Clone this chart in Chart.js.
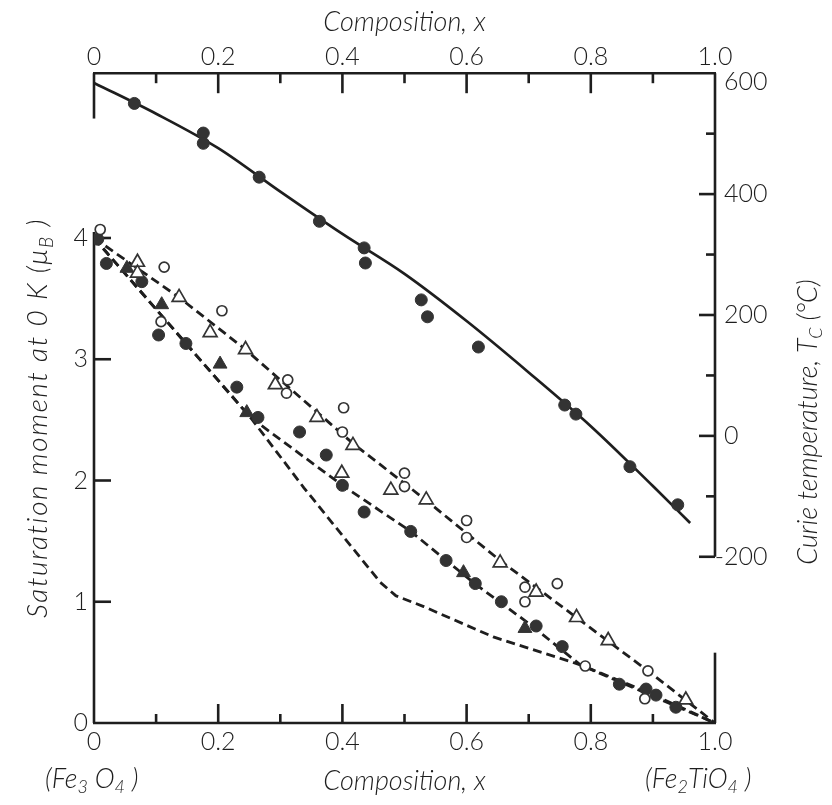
<html>
<head>
<meta charset="utf-8">
<script src="https://cdn.jsdelivr.net/npm/chart.js@4.4.1/dist/chart.umd.min.js"></script>
<style>
  body { margin: 0; background: #fff; }
</style>
</head>
<body>
<canvas id="myChart" width="832" height="805"></canvas>
<script>
// Curie temperature against composition (top axis / right axis)
const curieX = [0.065, 0.176, 0.176, 0.266, 0.363, 0.435, 0.437, 0.527, 0.537, 0.619, 0.758, 0.776, 0.863, 0.940];
const curieT = [550, 501, 484, 428, 355, 311, 286, 225, 197, 147, 51, 36, -51, -114];
const curieFitX = [0, 0.1, 0.2, 0.3, 0.4, 0.5, 0.6, 0.7, 0.8, 0.9, 0.96];
const curieFitT = [584, 533, 476, 404, 334, 268, 190, 105, 16, -83, -144];

// Saturation moment at 0 K against composition (bottom axis / left axis)
const filledCircX = [0.006, 0.02, 0.077, 0.104, 0.148, 0.23, 0.264, 0.331, 0.374, 0.40, 0.435, 0.51, 0.567, 0.614, 0.656, 0.712, 0.754, 0.846, 0.889, 0.905, 0.937];
const filledCircY = [3.99, 3.79, 3.64, 3.20, 3.13, 2.77, 2.52, 2.40, 2.21, 1.96, 1.74, 1.58, 1.34, 1.15, 1.00, 0.80, 0.63, 0.32, 0.28, 0.23, 0.13];
const filledTriX = [0.053, 0.109, 0.203, 0.246, 0.595, 0.694];
const filledTriY = [3.75, 3.45, 2.96, 2.56, 1.24, 0.78];
const openTriX = [0.07, 0.07, 0.137, 0.187, 0.244, 0.292, 0.359, 0.399, 0.417, 0.478, 0.535, 0.654, 0.712, 0.777, 0.828, 0.953];
const openTriY = [3.80, 3.71, 3.51, 3.22, 3.08, 2.79, 2.52, 2.06, 2.29, 1.92, 1.84, 1.32, 1.08, 0.87, 0.68, 0.19];
const openCircX = [0.01, 0.113, 0.108, 0.206, 0.312, 0.31, 0.402, 0.40, 0.50, 0.50, 0.60, 0.60, 0.694, 0.694, 0.746, 0.791, 0.892, 0.887];
const openCircY = [4.07, 3.76, 3.31, 3.40, 2.83, 2.72, 2.60, 2.40, 2.06, 1.95, 1.67, 1.53, 1.12, 1.00, 1.15, 0.47, 0.43, 0.20];

// dashed model curves
const upperDashX = [0, 0.137, 0.244, 0.416, 0.534, 0.654, 0.777, 0.892, 1.0];
const upperDashY = [4.0, 3.51, 3.08, 2.31, 1.84, 1.34, 0.87, 0.43, 0];
const middleDashX = [0, 0.252, 0.40, 0.51, 0.613, 0.703, 0.783, 0.889, 1.0];
const middleDashY = [4.0, 2.52, 1.96, 1.58, 1.15, 0.81, 0.48, 0.26, 0];
const lowerDashX = [0, 0.252, 0.338, 0.461, 0.486, 0.531, 0.643, 0.783, 1.0];
const lowerDashY = [4.0, 2.52, 1.94, 1.16, 1.05, 0.96, 0.71, 0.48, 0];

// axis ticks
const compTicks = [0, 0.2, 0.4, 0.6, 0.8, 1.0];
const compMinor = [0.1, 0.3, 0.5, 0.7, 0.9];
const momentTicks = [0, 1, 2, 3, 4];
const curieTicks = [-200, 0, 200, 400, 600];
const curieMinor = [-100, 100, 300, 500];

const ink = "#1e1e1e";
const dot = "#333333";
const tickFont = "300 25px Lato, sans-serif";

const pts = (xs, ys) => xs.map((x, i) => ({ x: x, y: ys[i] }));

function richText(ctx, parts, x, y, size, align, spacing) {
    const base = "italic 300 " + size + "px Lato, sans-serif";
    const small = "italic 300 " + Math.round(size * 0.68) + "px Lato, sans-serif";
    ctx.letterSpacing = (spacing || 0) + "px";
    let w = 0;
    parts.forEach(p => { ctx.font = p.sub ? small : base; w += ctx.measureText(p.t).width; });
    let cx = align === "center" ? x - w / 2 : x;
    ctx.textAlign = "left";
    ctx.textBaseline = "middle";
    parts.forEach(p => {
        ctx.font = p.sub ? small : base;
        ctx.fillText(p.t, cx, p.sub ? y + size * 0.32 : y);
        cx += ctx.measureText(p.t).width;
    });
    ctx.letterSpacing = "0px";
}

const frame = {
    id: "frame",
    beforeDatasetsDraw(chart) {
        const ctx = chart.ctx;
        const xb = chart.scales.x, xt = chart.scales.xTop;
        const ym = chart.scales.y, yt = chart.scales.yT;
        const line = (x1, y1, x2, y2) => { ctx.beginPath(); ctx.moveTo(x1, y1); ctx.lineTo(x2, y2); ctx.stroke(); };
        ctx.save();
        ctx.strokeStyle = ink;
        ctx.lineWidth = 2.6;

        // lower panel frame
        const y0 = ym.getPixelForValue(0);
        const xl = xb.getPixelForValue(0), xr = xb.getPixelForValue(1);
        line(xl - 1, y0, xr + 1, y0);
        line(xl, y0, xl, ym.getPixelForValue(4.05));
        line(xr, y0, xr, ym.getPixelForValue(0.58));
        compTicks.slice(1, -1).forEach(v => line(xb.getPixelForValue(v), y0, xb.getPixelForValue(v), y0 - 19));
        compMinor.forEach(v => line(xb.getPixelForValue(v), y0, xb.getPixelForValue(v), y0 - 9));
        momentTicks.slice(1).forEach(v => line(xl, ym.getPixelForValue(v), xl + 17, ym.getPixelForValue(v)));

        // upper panel frame
        const t0 = yt.getPixelForValue(600);
        const tl = xt.getPixelForValue(0), tr = xt.getPixelForValue(1);
        line(tl - 1, t0, tr + 1, t0);
        line(tl, t0, tl, yt.getPixelForValue(525));
        line(tr, t0, tr, yt.getPixelForValue(-200));
        compTicks.slice(1, -1).forEach(v => line(xt.getPixelForValue(v), t0, xt.getPixelForValue(v), t0 + 20));
        compMinor.forEach(v => line(xt.getPixelForValue(v), t0, xt.getPixelForValue(v), t0 + 10));
        curieTicks.slice(0, -1).forEach(v => line(tr, yt.getPixelForValue(v), tr - 16, yt.getPixelForValue(v)));
        curieMinor.forEach(v => line(tr, yt.getPixelForValue(v), tr - 9, yt.getPixelForValue(v)));
        ctx.restore();
    },
    afterDraw(chart) {
        const ctx = chart.ctx;
        const xb = chart.scales.x, xt = chart.scales.xTop;
        const ym = chart.scales.y, yt = chart.scales.yT;
        const fmt = v => v === 0 ? "0" : v.toFixed(1);
        ctx.save();
        ctx.fillStyle = ink;
        ctx.font = tickFont;
        ctx.textBaseline = "middle";

        ctx.textAlign = "center";
        compTicks.forEach(v => ctx.fillText(fmt(v), xb.getPixelForValue(v), ym.getPixelForValue(0) + 19));
        compTicks.forEach(v => ctx.fillText(fmt(v), xt.getPixelForValue(v), yt.getPixelForValue(600) - 16));

        ctx.textAlign = "right";
        momentTicks.forEach(v => ctx.fillText(String(v), xb.getPixelForValue(0) - 6, ym.getPixelForValue(v)));

        ctx.textAlign = "left";
        const rx = xt.getPixelForValue(1) + 9;
        curieTicks.forEach(v => {
            const dx = v < 0 ? ctx.measureText("-").width : 0;
            const dy = v === 600 ? 9 : 0;
            ctx.fillText(String(v), rx - dx, yt.getPixelForValue(v) + dy);
        });

        // axis titles
        richText(ctx, [{ t: "Composition, x" }], (xt.left + xt.right) / 2, 22, 27, "center");
        richText(ctx, [{ t: "Composition, x" }], (xb.left + xb.right) / 2, 781, 27, "center");
        richText(ctx, [{ t: "(Fe" }, { t: "3", sub: true }, { t: " O" }, { t: "4", sub: true }, { t: " )" }], 45, 779, 27, "left");
        richText(ctx, [{ t: "(Fe" }, { t: "2", sub: true }, { t: "TiO" }, { t: "4", sub: true }, { t: " )" }], 645, 779, 27, "left");

        ctx.save();
        ctx.translate(38, 418);
        ctx.rotate(-Math.PI / 2);
        richText(ctx, [{ t: "Saturation moment at 0 K (μ" }, { t: "B", sub: true }, { t: " )" }], 0, 0, 28, "center", 1.6);
        ctx.restore();

        ctx.save();
        ctx.translate(808, 422);
        ctx.rotate(-Math.PI / 2);
        richText(ctx, [{ t: "Curie temperature, T" }, { t: "C", sub: true }, { t: " (°C)" }], 0, 0, 27, "center");
        ctx.restore();
        ctx.restore();
    }
};

const dashed = (data) => ({
    data: data, showLine: true, pointRadius: 0, borderColor: ink, borderWidth: 2.8,
    borderDash: [9, 5], tension: 0, order: 2, xAxisID: "x", yAxisID: "y"
});

new Chart("myChart", {
    type: "scatter",
    data: {
        datasets: [
            { data: pts(curieX, curieT), xAxisID: "xTop", yAxisID: "yT", pointRadius: 6,
              backgroundColor: dot, borderColor: dot, order: 1 },
            { data: pts(openCircX, openCircY), pointRadius: 5, backgroundColor: "#fff",
              borderColor: dot, borderWidth: 1.7, order: 1 },
            { data: pts(openTriX, openTriY), pointStyle: "triangle", pointRadius: 8,
              backgroundColor: "#fff", borderColor: dot, borderWidth: 1.7, order: 1 },
            { data: pts(filledTriX, filledTriY), pointStyle: "triangle", pointRadius: 8,
              backgroundColor: dot, borderColor: dot, order: 1 },
            { data: pts(filledCircX, filledCircY), pointRadius: 6,
              backgroundColor: dot, borderColor: dot, order: 1 },
            { data: pts(curieFitX, curieFitT), xAxisID: "xTop", yAxisID: "yT", showLine: true,
              pointRadius: 0, borderColor: ink, borderWidth: 2.7, cubicInterpolationMode: "monotone", order: 2 },
            dashed(pts(upperDashX, upperDashY)),
            dashed(pts(middleDashX, middleDashY)),
            dashed(pts(lowerDashX, lowerDashY))
        ]
    },
    options: {
        responsive: false,
        animation: false,
        devicePixelRatio: 1,
        layout: { padding: { left: 94, right: 117, top: 72, bottom: 82 } },
        plugins: { legend: { display: false }, tooltip: { enabled: false } },
        scales: {
            x: { type: "linear", position: "bottom", min: 0, max: 1, display: false },
            xTop: { type: "linear", position: "top", min: 0, max: 1, display: false },
            y: { type: "linear", position: "left", min: 0, max: 5.369, display: false },
            yT: { type: "linear", position: "right", min: -475, max: 602, display: false }
        }
    },
    plugins: [frame]
});
</script>
</body>
</html>
